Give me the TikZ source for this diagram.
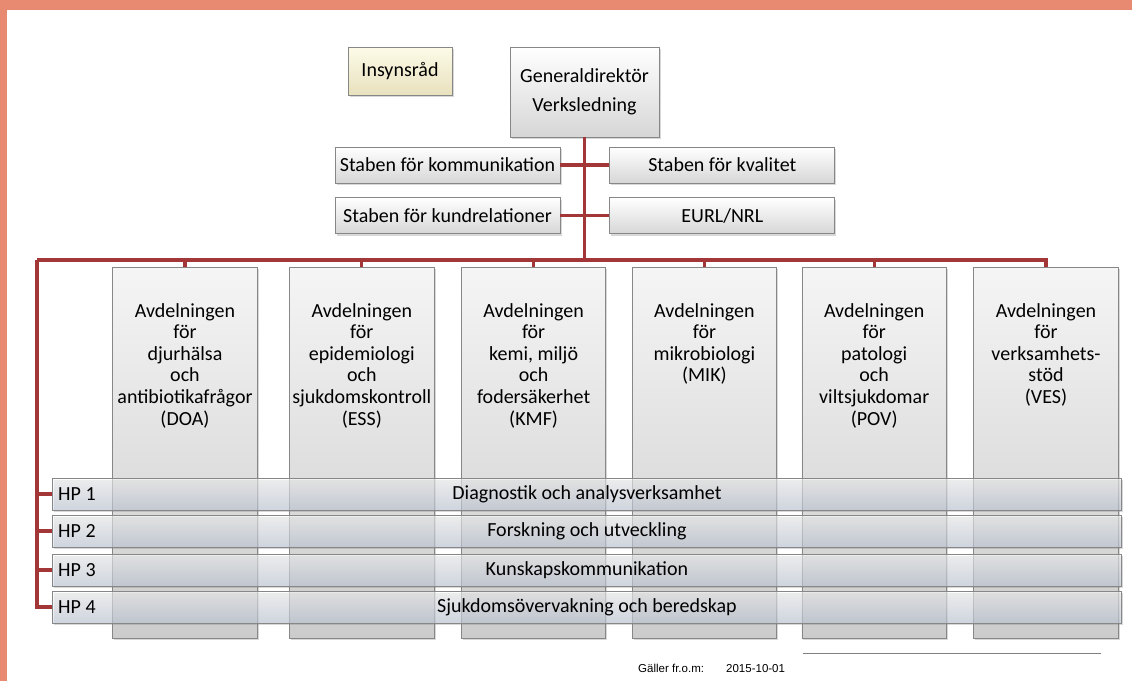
\documentclass[tikz,border=0pt]{standalone}
\usepackage{fontspec}
\setmainfont{Carlito}
\newfontfamily\footfont{Liberation Sans}
\usetikzlibrary{positioning,shadows}
\definecolor{linje}{RGB}{163,55,55}
\definecolor{ram}{RGB}{232,138,114}
\definecolor{kant}{RGB}{135,135,135}
\definecolor{hpblue}{RGB}{200,211,228}
\definecolor{creamtop}{RGB}{253,251,232}
\definecolor{creambot}{RGB}{232,225,190}

\begin{document}
\begin{tikzpicture}[x=1pt,y=-1pt,-,node distance=26.5pt]
	\tikzstyle{box}=[draw=kant,line width=0.8pt,top color=white,bottom color=black!16,drop shadow={shadow xshift=1.5pt,shadow yshift=-1.8pt,opacity=0.3},inner sep=0pt,font=\fontsize{20}{22}\selectfont]
	\tikzstyle{stab}=[box,minimum width=225pt,minimum height=36pt]
	\tikzstyle{avd}=[box,top color=black!4,bottom color=black!20,minimum width=144.5pt,minimum height=371pt,anchor=north]
	\tikzstyle{avdtext}=[align=center,anchor=north,inner sep=0pt,font=\fontsize{20}{21.6}\selectfont]
	\tikzstyle{hp}=[box,top color=white,bottom color=hpblue,fill opacity=0.55,text opacity=1,minimum width=1069pt,minimum height=32pt,anchor=west]
	\tikzstyle{hptext}=[inner sep=0pt,font=\fontsize{20}{22}\selectfont]
	\tikzstyle{conn}=[draw=linje,line width=3.2pt]
	\tikzstyle{foot}=[anchor=base west,inner sep=0pt,font=\footfont\fontsize{11.5}{13}\selectfont]
	
	\useasboundingbox (0,0) rectangle (1132,681);
	\fill[white] (0,0) rectangle (1132,681);
	\fill[ram] (0,0) rectangle (1132,10);
	\fill[ram] (0,0) rectangle (7,681);
	
	\node[box,minimum width=104pt,minimum height=48pt,top color=creamtop,bottom color=creambot] (IR) at (400,71) {Insynsråd};
	\node[box,minimum width=149pt,minimum height=90pt,align=center,font=\fontsize{20}{29}\selectfont] (GD) at (584.5,92) {Generaldirektör\\Verksledning};
	
	\node[stab] (SK) at (447.5,165) {Staben för kommunikation};
	\node[stab] (SQ) [right=49pt of SK] {Staben för kvalitet};
	\node[stab] (SR) [below=14pt of SK] {Staben för kundrelationer};
	\node[stab] (EU) [right=49pt of SR] {EURL/NRL};
	
	\coordinate (bus) at (37,260);
	\path[conn] (GD.south) edge (GD.south |- bus)
	(SK.east) edge (SQ.west)
	(SR.east) edge (EU.west);
	
	\node[avd] (DOA) at (185,267) {};
	\node[avd] (ESS) [right=31.5pt of DOA] {};
	\node[avd] (KMF) [right=of ESS] {};
	\node[avd] (MIK) [right=25.5pt of KMF] {};
	\node[avd] (POV) [right=24.5pt of MIK] {};
	\node[avd] (VES) [right=of POV] {};
	
	\node[avdtext] (tDOA) at ([yshift=-36pt]DOA.north) {Avdelningen\\för\\djurhälsa\\och\\antibiotikafrågor\\(DOA)};
	\node[avdtext] (tESS) at ([yshift=-36pt]ESS.north) {Avdelningen\\för\\epidemiologi\\och\\sjukdomskontroll\\(ESS)};
	\node[avdtext] (tKMF) at ([yshift=-36pt]KMF.north) {Avdelningen\\för\\kemi, miljö\\och\\fodersäkerhet\\(KMF)};
	\node[avdtext] (tMIK) at ([yshift=-36pt]MIK.north) {Avdelningen\\för\\mikrobiologi\\(MIK)};
	\node[avdtext] (tPOV) at ([yshift=-36pt]POV.north) {Avdelningen\\för\\patologi\\och\\viltsjukdomar\\(POV)};
	\node[avdtext] (tVES) at ([yshift=-36pt]VES.north) {Avdelningen\\för\\verksamhets-\\stöd\\(VES)};
	
	\node[hp] (HP1) at (52,494) {};
	\node[hp] (HP2) at (52,531) {};
	\node[hp] (HP3) at (52,570) {};
	\node[hp] (HP4) at (52,607) {};
	
	\node[hptext,anchor=west] (hp1) at ([xshift=6pt]HP1.west) {HP 1};
	\node[hptext,anchor=west] (hp2) at ([xshift=6pt]HP2.west) {HP 2};
	\node[hptext,anchor=west] (hp3) at ([xshift=6pt]HP3.west) {HP 3};
	\node[hptext,anchor=west] (hp4) at ([xshift=6pt]HP4.west) {HP 4};
	\node[hptext] (d1) at (HP1.center) {Diagnostik och analysverksamhet};
	\node[hptext] (d2) at (HP2.center) {Forskning och utveckling};
	\node[hptext] (d3) at (HP3.center) {Kunskapskommunikation};
	\node[hptext] (d4) at (HP4.center) {Sjukdomsövervakning och beredskap};
	
	\draw[conn] (bus) -| (VES.north);
	\draw[conn] (bus) |- (HP4.west);
	\path[conn] (DOA.north) edge (DOA.north |- bus)
	(ESS.north) edge (ESS.north |- bus)
	(KMF.north) edge (KMF.north |- bus)
	(MIK.north) edge (MIK.north |- bus)
	(POV.north) edge (POV.north |- bus)
	(HP1.west -| bus) edge (HP1.west)
	(HP2.west -| bus) edge (HP2.west)
	(HP3.west -| bus) edge (HP3.west);
	
	\node[foot] (gf) at (638,672) {Gäller fr.o.m:};
	\node[foot] (datum) at (726,672) {2015-10-01};
	\draw[black!50,line width=1pt] (803,653) -- (1101,653);
\end{tikzpicture}
\end{document}
